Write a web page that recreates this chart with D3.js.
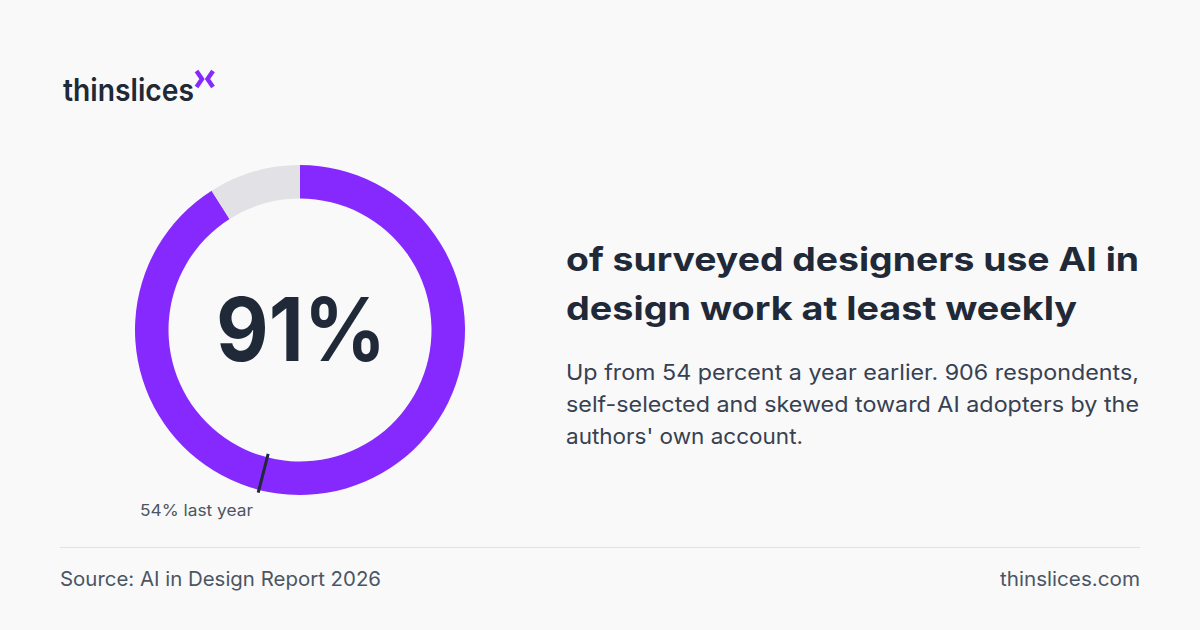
<!DOCTYPE html>
<html><head><meta charset="utf-8">
<style>
html,body{margin:0;padding:0;background:#f9f9f9;overflow:hidden}
svg{display:block}
text{font-family:"Inter","Noto Sans",sans-serif}
</style>
<script src="https://cdn.jsdelivr.net/npm/d3@7"></script>
</head><body>
<svg id="c" width="1200" height="630"></svg>
<script>
const segmentNames = ["Use AI at least weekly", "Other"];
const segmentValues = [91, 9];
const segmentColors = ["#8629ff", "#e2e1e6"];
const previousValue = 54;
const previousLabel = "54% last year";
const bigLabel = "91%";
const headline = ["of surveyed designers use AI in", "design work at least weekly"];
const body = ["Up from 54 percent a year earlier. 906 respondents,", "self-selected and skewed toward AI adopters by the", "authors' own account."];
const source = "Source: AI in Design Report 2026";
const site = "thinslices.com";
const ink = "#1f2937", muted = "#4b5563";

const svg = d3.select("#c");
const t = (x, y, s, size, weight, fill, anchor, len) => {
  const n = svg.append("text").attr("x", x).attr("y", y).attr("font-size", size)
    .attr("font-weight", weight).attr("fill", fill).attr("text-anchor", anchor || "start").text(s);
  if (len) n.attr("textLength", len).attr("lengthAdjust", "spacingAndGlyphs");
  return n;
};

// logo
t(63, 100.5, "thinslices", 31, 600, "#1f2937", "start", 131);
const logoMark = svg.append("g").attr("fill", "none").attr("stroke", "#8629ff").attr("stroke-width", 4.4);
logoMark.append("path").attr("d", "M196.5,71 L202,79 L196.5,87");
logoMark.append("path").attr("d", "M213,71 L207.5,79 L213,87");

// donut
const ring = svg.append("g").attr("transform", "translate(300,330)");
const pie = d3.pie().sort(null).value(d => d)(segmentValues);
const arc = d3.arc().innerRadius(131.5).outerRadius(165);
ring.selectAll("path.seg").data(pie).join("path").attr("class", "seg")
  .attr("d", arc).attr("fill", (d, i) => segmentColors[i]);

const angle = d3.scaleLinear().domain([0, 100]).range([0, 2 * Math.PI]);
const a = angle(previousValue);
ring.append("line")
  .attr("x1", Math.sin(a) * 128).attr("y1", -Math.cos(a) * 128)
  .attr("x2", Math.sin(a) * 168).attr("y2", -Math.cos(a) * 168)
  .attr("stroke", ink).attr("stroke-width", 3);

t(216, 361, bigLabel, 88, 700, ink, "start", 170);
t(140, 516, previousLabel, 16, 400, muted, "start", 113);

t(566, 271, headline[0], 33, 700, ink, "start", 573);
t(566, 320, headline[1], 33, 700, ink, "start", 511);

t(566, 380, body[0], 21.5, 400, "#374151", "start", 573);
t(566, 412, body[1], 21.5, 400, "#374151", "start", 573);
t(566, 444, body[2], 21.5, 400, "#374151", "start", 237);

svg.append("line").attr("x1", 60).attr("x2", 1140).attr("y1", 547.5).attr("y2", 547.5).attr("stroke", "#e2e2e6");
t(60, 586, source, 20, 400, muted, "start", 321);
t(1140, 586, site, 20, 400, muted, "end", 140);
</script>
</body></html>
